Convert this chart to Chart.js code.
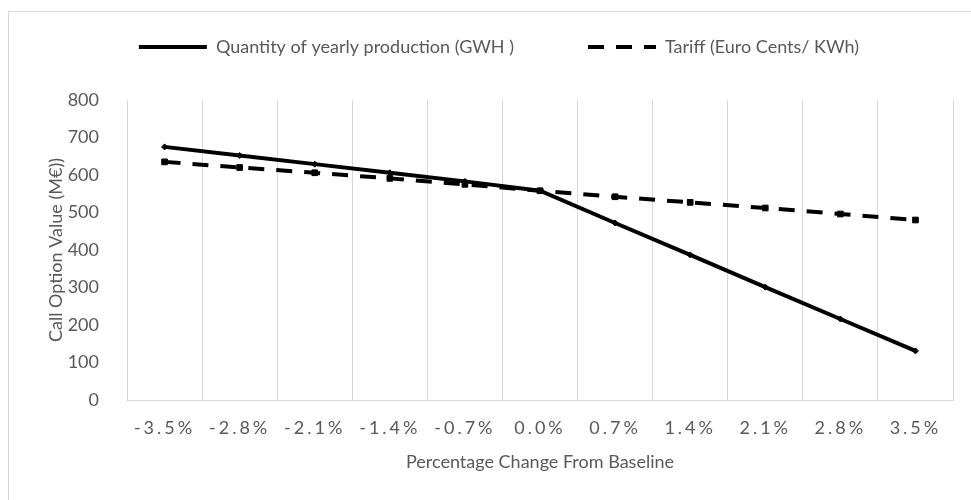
<!DOCTYPE html>
<html>
<head>
<meta charset="utf-8">
<script src="https://cdn.jsdelivr.net/npm/chart.js"></script>
<style>
  html, body { margin: 0; padding: 0; background: #fff; overflow: hidden; }
  #wrap { position: relative; width: 971px; height: 500px; }
  #marco { position: absolute; left: 8px; top: 11px; width: 1000px; height: 600px; border: 1px solid #d9d9d9; }
  canvas { position: absolute; left: 0; top: 0; }
</style>
</head>
<body>
<div id="wrap">
  <div id="marco"></div>
  <canvas id="grafico" width="971" height="500"></canvas>
</div>
<script>
const cambios = ["-3.5%", "-2.8%", "-2.1%", "-1.4%", "-0.7%", "0.0%", "0.7%", "1.4%", "2.1%", "2.8%", "3.5%"]
const produccion = [675, 652, 629, 606, 583, 558, 472, 387, 301, 216, 131]
const tarifa = [635, 620, 606, 591, 575, 558, 542, 527, 512, 496, 480]
const ticksY = [0, 100, 200, 300, 400, 500, 600, 700, 800]

const gris = "#595959"
const fuente = "Lato, sans-serif"

// el legend de Chart.js no deja separar el espacio vertical del horizontal
const ajusteLeyenda = {
    id: "ajusteLeyenda",
    beforeInit(chart) {
        const fitOriginal = chart.legend.fit
        chart.legend.fit = function() {
            fitOriginal.bind(chart.legend)()
            this.height = 136
        }
    },
    beforeDraw(chart) {
        // espaciado entre letras en las etiquetas del eje x
        const sx = chart.scales.x
        if (!sx._espaciado) {
            const dibujar = sx.drawLabels
            sx.drawLabels = function(area) {
                const ctx = this.ctx
                const antes = ctx.letterSpacing
                ctx.letterSpacing = "3px"
                dibujar.call(this, area)
                ctx.letterSpacing = antes
            }
            sx._espaciado = true
        }
    }
}

const ctx = document.getElementById("grafico").getContext("2d")
new Chart(ctx, {
    type: "line",
    data: {
        labels: cambios,
        datasets: [{
            label: "Quantity of yearly production (GWH )",
            data: produccion,
            borderColor: "#000",
            backgroundColor: "#000",
            borderWidth: 4,
            pointStyle: "rectRot",
            pointRadius: 3,
            pointBorderWidth: 1,
            tension: 0
        }, {
            label: "Tariff (Euro Cents/ KWh)",
            data: tarifa,
            borderColor: "#000",
            backgroundColor: "#000",
            borderWidth: 4,
            borderDash: [16, 12],
            pointStyle: "rect",
            pointRadius: 4,
            pointBorderWidth: 1,
            tension: 0
        }]
    },
    plugins: [ajusteLeyenda],
    options: {
        responsive: false,
        animation: false,
        layout: {
            padding: { left: 45, right: 18, top: -36, bottom: 20 }
        },
        plugins: {
            tooltip: { enabled: false },
            legend: {
                position: "top",
                labels: {
                    color: gris,
                    font: { family: fuente, size: 18 },
                    usePointStyle: true,
                    pointStyleWidth: 68,
                    padding: 74,
                    generateLabels(chart) {
                        const items = Chart.defaults.plugins.legend.labels.generateLabels(chart)
                        items.forEach((it, i) => {
                            it.pointStyle = "line"
                            it.lineWidth = 4
                            it.lineDash = chart.data.datasets[i].borderDash || []
                        })
                        return items
                    }
                }
            }
        },
        scales: {
            x: {
                offset: true,
                grid: { display: true, offset: true, color: "#d9d9d9", drawTicks: false },
                border: { color: "#d9d9d9" },
                ticks: { color: gris, font: { family: fuente, size: 18 }, padding: 17, maxRotation: 0 },
                title: {
                    display: true,
                    text: "Percentage Change From Baseline",
                    color: gris,
                    font: { family: fuente, size: 18 },
                    padding: { top: 4, bottom: 7 }
                },
                afterFit(scale) { scale.height = 80 }
            },
            y: {
                min: 0,
                max: 800,
                grid: { display: false },
                border: { display: false },
                afterBuildTicks(scale) { scale.ticks = ticksY.map(v => ({ value: v })) },
                ticks: { color: gris, font: { family: fuente, size: 18 }, padding: 20 },
                title: {
                    display: true,
                    text: "Call Option Value (M€))",
                    color: gris,
                    font: { family: fuente, size: 18 },
                    padding: 0
                },
                afterFit(scale) { scale.width = 82 }
            }
        }
    }
})
</script>
</body>
</html>
